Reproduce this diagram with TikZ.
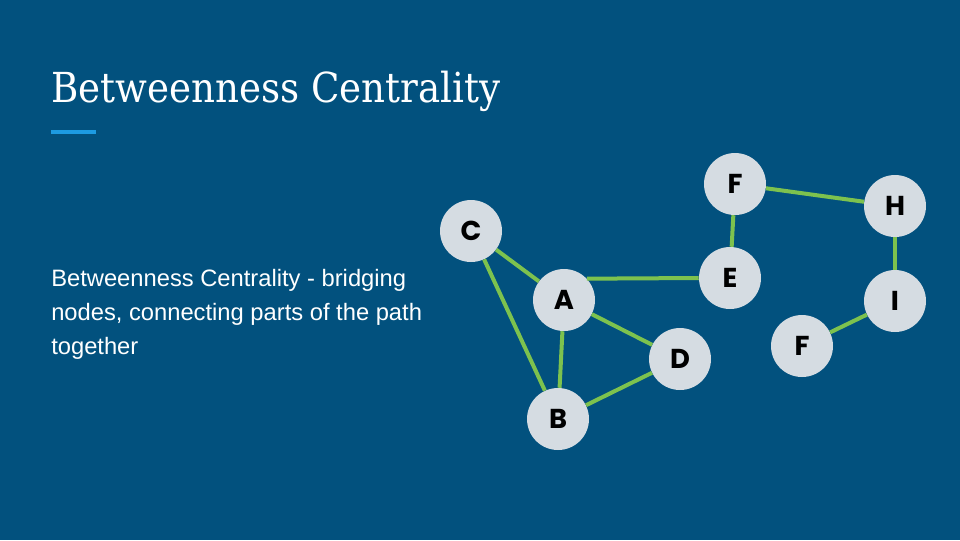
\documentclass[tikz,border=0pt]{standalone}
\usepackage{fontspec}
\setmainfont{Liberation Sans}
\newfontfamily\titlefont{DejaVu Serif Condensed}
\newfontfamily\bodyfont{Liberation Sans}
\newfontfamily\nodefont{Poppins}[UprightFont=* Bold]
\definecolor{bg}{HTML}{02517E}
\definecolor{nodefill}{HTML}{D5DCE2}
\definecolor{edgegreen}{HTML}{7DC24E}
\definecolor{accent}{HTML}{1D9BE2}
\begin{document}
\begin{tikzpicture}[x=0.75pt,y=-0.75pt,
  vertex/.style={circle,fill=nodefill,minimum size=46.5pt,inner sep=0pt,
    font=\nodefont\fontsize{20.5}{20.5}\selectfont,text=black},
  link/.style={draw=edgegreen,line width=3pt},
  titletext/.style={anchor=base west,inner sep=0pt,text=white,
    font=\titlefont\fontsize{31}{36}\selectfont},
  bodytext/.style={anchor=base west,inner sep=0pt,text=white,align=left,
    font=\bodyfont\fontsize{17.8}{25.5}\selectfont}]
  % background
  \fill[bg] (0,0) rectangle (960,540);
  \useasboundingbox (0,0) rectangle (960,540);

  % heading and underline
  \node[titletext] (title) at (51,102) {Betweenness Centrality};
  \coordinate (ulA) at (51,132);
  \coordinate (ulB) at (96,132);
  \draw[accent,line width=3pt] (ulA) -- (ulB);

  % description (anchored on the baseline of its last line)
  \node[bodytext] (desc) at (51,354) {Betweenness Centrality - bridging\\nodes, connecting parts of the path\\together};

  % graph vertices
  \node[vertex] (C) at (471,231) {C};
  \node[vertex] (A) at (564,300) {A};
  \node[vertex] (B) at (558,419) {B};
  \node[vertex] (D) at (680,359) {D};
  \node[vertex] (E) at (730,278) {E};
  \node[vertex] (F1) at (735,184) {F};
  \node[vertex] (H) at (895,206) {H};
  \node[vertex] (I) at (895,301) {I};
  \node[vertex] (F2) at (802,346) {F};

  % graph edges, stopping at the circle borders
  \draw[link] (C) -- (A);
  \draw[link] (C) -- (B);
  \draw[link] (A) -- (B);
  \draw[link] (A) -- (D);
  \draw[link] (A.43) -- (E.west);
  \draw[link] (D) -- (B);
  \draw[link] (E) -- (F1);
  \draw[link] (F1) -- (H);
  \draw[link] (H) -- (I);
  \draw[link] (I) -- (F2);
\end{tikzpicture}
\end{document}
